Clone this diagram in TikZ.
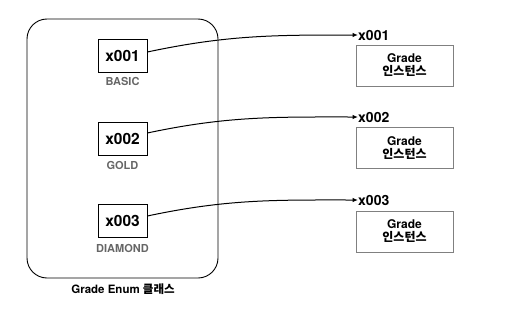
\documentclass[tikz,border=0pt]{standalone}
\usepackage{fontspec}
\setmainfont{TeX Gyre Heros}
\newfontfamily\krfont{Noto Sans CJK KR}
\usetikzlibrary{arrows.meta,positioning}

\begin{document}
\begin{tikzpicture}[
    x=1pt,
    y=-1pt,
    >={Latex[length=5.5pt,width=4.5pt]},
    enumbox/.style={draw, line width=0.9pt, rounded corners=20pt, minimum width=191pt, minimum height=259pt, inner sep=0pt},
    refbox/.style={draw, line width=0.7pt, minimum width=49pt, minimum height=33pt, inner sep=0pt, font=\fontsize{15.5}{17}\selectfont\bfseries},
    constname/.style={text=black!60, font=\fontsize{11}{12}\selectfont\bfseries, inner sep=0pt},
    instbox/.style={draw=black!50, line width=0.7pt, minimum width=97pt, minimum height=41pt, inner sep=0pt, align=center, font=\fontsize{12}{13}\selectfont\bfseries},
    addr/.style={anchor=west, inner sep=0pt, font=\fontsize{14}{16}\selectfont\bfseries},
    line/.style={->, line width=1pt}
]
\useasboundingbox (0,0) rectangle (511,324);

\node[enumbox] (enumcls) at (122.5,148.5) {};
\node[font=\fontsize{11.5}{13}\selectfont\bfseries] (enumlbl) at (123,289) {Grade Enum {\krfont 클래스}};

\node[refbox] (ref1) at (122.5,55.5) {x001};
\node[constname] (basic) at (122.5,81) {BASIC};
\node[refbox] (ref2) at (122.5,138.5) {x002};
\node[constname] (gold) at (122.5,165) {GOLD};
\node[refbox] (ref3) at (122.5,220.5) {x003};
\node[constname] (diamond) at (122.5,248) {DIAMOND};

\node[addr] (addr1) at (358,35) {x001};
\node[instbox] (inst1) at (404.5,65.5) {Grade\\{\krfont 인스턴스}};
\node[addr] (addr2) at (358,117) {x002};
\node[instbox] (inst2) at (404.5,148) {Grade\\{\krfont 인스턴스}};
\node[addr] (addr3) at (358,200) {x003};
\node[instbox] (inst3) at (404.5,231.5) {Grade\\{\krfont 인스턴스}};

\draw[line] ([yshift=3.5pt]ref1.east) to[out=12, in=180] (addr1.west);
\draw[line] ([yshift=5.5pt]ref2.east) to[out=12, in=180] (addr2.west);
\draw[line] ([yshift=4.5pt]ref3.east) to[out=12, in=180] (addr3.west);
\end{tikzpicture}
\end{document}
